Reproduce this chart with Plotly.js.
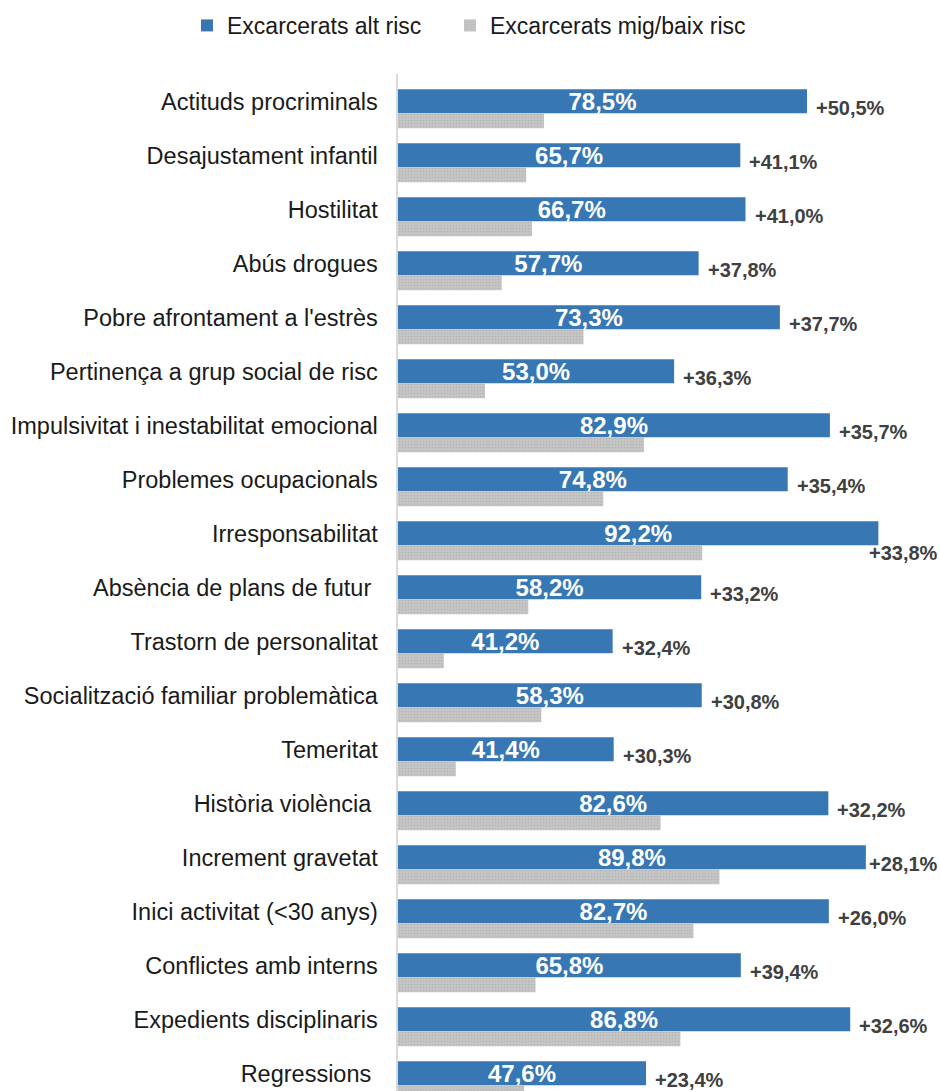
<!DOCTYPE html>
<html>
<head>
<meta charset="utf-8">
<script src="https://cdn.plot.ly/plotly-3.0.1.min.js"></script>
<style>html,body{margin:0;padding:0;background:#fff;}#chart{width:940px;height:1091px;}</style>
</head>
<body>
<div id="chart"></div>
<script>
const categories = [
  "Actituds procriminals",
  "Desajustament infantil",
  "Hostilitat",
  "Abús drogues",
  "Pobre afrontament a l'estrès",
  "Pertinença a grup social de risc",
  "Impulsivitat i inestabilitat emocional",
  "Problemes ocupacionals",
  "Irresponsabilitat",
  "Absència de plans de futur\u00a0",
  "Trastorn de personalitat",
  "Socialització familiar problemàtica",
  "Temeritat",
  "Història violència\u00a0",
  "Increment gravetat",
  "Inici activitat (<30 anys)",
  "Conflictes amb interns",
  "Expedients disciplinaris",
  "Regressions\u00a0"
];
const altRisc = [78.5, 65.7, 66.7, 57.7, 73.3, 53.0, 82.9, 74.8, 92.2, 58.2, 41.2, 58.3, 41.4, 82.6, 89.8, 82.7, 65.8, 86.8, 47.6];
const migBaixRisc = [28.0, 24.6, 25.7, 19.9, 35.6, 16.7, 47.2, 39.4, 58.4, 25.0, 8.8, 27.5, 11.1, 50.4, 61.7, 56.7, 26.4, 54.2, 24.2];
const diffLabels = ["+50,5%", "+41,1%", "+41,0%", "+37,8%", "+37,7%", "+36,3%", "+35,7%", "+35,4%", "+33,8%", "+33,2%", "+32,4%", "+30,8%", "+30,3%", "+32,2%", "+28,1%", "+26,0%", "+39,4%", "+32,6%", "+23,4%"];
const seriesNames = ["Excarcerats alt risc", "Excarcerats mig/baix risc"];

const FONT = "Liberation Sans, Arial, sans-serif";
const W = 940, H = 1091, L = 398, R = 21, T = 74, B = 0;
const XMAX = 100;
const pxPerUnit = (W - L - R) / XMAX;
const labelW = 71;

const fmt = v => v.toFixed(1).replace('.', ',') + '%';

const traceAlt = {
  type: 'bar', orientation: 'h', name: seriesNames[0], legend: 'legend',
  y: categories, x: altRisc,
  offset: -0.2222, width: 0.4444,
  marker: {color: '#3777b4', line: {width: 0}},
  text: altRisc.map(fmt), textposition: 'inside', insidetextanchor: 'middle',
  constraintext: 'none', cliponaxis: false,
  textfont: {family: FONT, size: 24, color: '#ffffff', weight: 'bold'},
  hoverinfo: 'skip'
};
const traceMig = {
  type: 'bar', orientation: 'h', name: seriesNames[1], legend: 'legend2',
  y: categories, x: migBaixRisc,
  offset: 0.2222, width: 0.2778,
  marker: {color: '#c2c2c2', line: {width: 0},
           pattern: {shape: '.', fgcolor: '#b4b4b4', bgcolor: '#c6c6c6', size: 3, solidity: 0.25}},
  hoverinfo: 'skip'
};

const annotations = altRisc.map((v, i) => {
  const endPx = v * pxPerUnit;
  const fits = endPx + 9 + labelW <= W - L - 1;
  if (fits) {
    return {x: v, y: categories[i], xref: 'x', yref: 'y', text: '<b>' + diffLabels[i] + '</b>',
      showarrow: false, xanchor: 'left', yanchor: 'middle', xshift: 7, yshift: -7,
      font: {family: FONT, size: 20, color: '#404040'}};
  }
  const leftPx = W - L - labelW;
  const overlaps = leftPx < endPx;
  return {x: 1, y: categories[i], xref: 'paper', yref: 'y', text: '<b>' + diffLabels[i] + '</b>',
    showarrow: false, xanchor: 'right', yanchor: 'middle', xshift: R, yshift: overlaps ? -20 : -7,
    font: {family: FONT, size: 20, color: '#404040'}};
});

const legendBase = {orientation: 'h', xanchor: 'left', y: 1.0477, yanchor: 'middle',
  font: {family: FONT, size: 23, color: '#1a1a1a'}, itemwidth: 30,
  bgcolor: 'rgba(0,0,0,0)', borderwidth: 0};

const layout = {
  width: W, height: H,
  margin: {l: L, r: R, t: T, b: B, pad: 0},
  paper_bgcolor: '#ffffff', plot_bgcolor: '#ffffff',
  barmode: 'overlay',
  font: {family: FONT, size: 23, color: '#1a1a1a'},
  xaxis: {range: [0, XMAX], showgrid: false, zeroline: false, showticklabels: false, showline: false, ticks: ''},
  yaxis: {type: 'category', range: [18.328, -0.5056], showgrid: false, zeroline: false,
          showline: true, linecolor: '#d9d9d9', linewidth: 2.5, ticks: '', ticklabelstandoff: 13,
          tickfont: {family: FONT, size: 23.5, color: '#1a1a1a'}},
  showlegend: true,
  legend: Object.assign({}, legendBase, {x: -0.405}),
  legend2: Object.assign({}, legendBase, {x: 0.0998}),
  annotations: annotations
};

Plotly.newPlot('chart', [traceAlt, traceMig], layout, {staticPlot: true, displayModeBar: false});
</script>
</body>
</html>
